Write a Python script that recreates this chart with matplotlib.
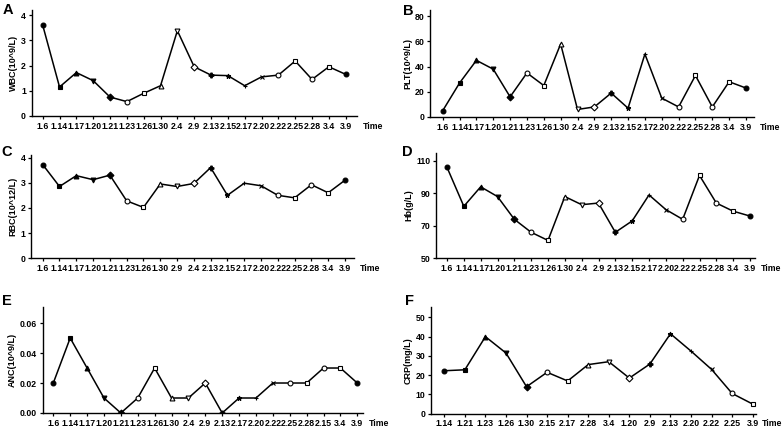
import matplotlib
matplotlib.use("Agg")
import matplotlib.pyplot as plt

plt.rcParams['font.family'] = ['Liberation Sans', 'DejaVu Sans']
plt.rcParams['font.weight'] = 'bold'

# Panel A - WBC
wbc_dates = ["1.6", "1.14", "1.17", "1.20", "1.21", "1.23", "1.26", "1.30", "2.4", "2.9",
             "2.13", "2.15", "2.17", "2.20", "2.22", "2.25", "2.28", "3.4", "3.9"]
wbc_vals = [3.6, 1.15, 1.72, 1.4, 0.75, 0.57, 0.9, 1.2, 3.38, 1.95,
            1.62, 1.6, 1.2, 1.55, 1.62, 2.18, 1.45, 1.95, 1.65]

# Panel B - PLT
plt_dates = wbc_dates
plt_vals = [5, 27, 45, 38, 16, 35, 25, 58, 6, 8, 19, 7, 50, 15, 8, 33, 8, 28, 23]

# Panel C - RBC
rbc_dates = ["1.6", "1.14", "1.17", "1.20", "1.21", "1.23", "1.26", "1.30", "2.9", "2.4",
             "2.13", "2.15", "2.17", "2.20", "2.22", "2.25", "2.28", "3.4", "3.9"]
rbc_vals = [3.72, 2.85, 3.28, 3.12, 3.3, 2.28, 2.02, 2.95, 2.85, 2.97,
            3.6, 2.5, 2.98, 2.88, 2.5, 2.4, 2.92, 2.6, 3.1]

# Panel D - Hb
hb_dates = wbc_dates
hb_vals = [106, 82, 94, 88, 74, 66, 61, 88, 83, 84, 66, 73, 89, 80, 74, 101, 84, 79, 76]

# Panel E - ANC
anc_dates = ["1.6", "1.14", "1.17", "1.20", "1.21", "1.23", "1.26", "1.30", "2.4", "2.9",
             "2.13", "2.17", "2.20", "2.22", "2.25", "2.28", "2.15", "3.4", "3.9"]
anc_vals = [0.02, 0.05, 0.03, 0.01, 0.0, 0.01, 0.03, 0.01, 0.01, 0.02,
            0.0, 0.01, 0.01, 0.02, 0.02, 0.02, 0.03, 0.03, 0.02]

# Panel F - CRP
crp_dates = ["1.14", "1.21", "1.23", "1.26", "1.30", "2.15", "2.17", "2.28", "3.4", "1.20",
             "2.9", "2.13", "2.20", "2.22", "2.25", "3.9"]
crp_vals = [22.3, 22.8, 40, 31.5, 14, 21.5, 17, 25.5, 27, 18.5, 25.8, 41.5, 32.5, 23, 10.5, 5]

# GraphPad-like marker cycle (marker, filled)
MARKERS = [("o", True), ("s", True), ("^", True), ("v", True), ("D", True),
           ("o", False), ("s", False), ("^", False), ("v", False), ("D", False),
           ("P", True), ("*", True), ("+", True), ("x", True), ("o", False),
           ("s", False), ("o", False), ("s", False), ("o", True)]

W, H = 782, 428
fig = plt.figure(figsize=(W / 100, H / 100), dpi=100)


def panel(box, first_x, last_x, dates, vals, ylabel, yticks, ylim, yfmt, letter, letter_xy):
    left, top, right, bottom = box
    ax = fig.add_axes([left / W, 1 - bottom / H, (right - left) / W, (bottom - top) / H])
    n = len(vals)
    step = (last_x - first_x) / (n - 1)
    xs = list(range(n))
    ax.plot(xs, vals, color="black", lw=1.1, zorder=2)
    for i, v in enumerate(vals):
        m, filled = MARKERS[i % len(MARKERS)]
        ax.plot(i, v, marker=m, ms=3.5, color="black", mew=0.8,
                mfc="black" if filled else "white", zorder=3)
    ax.set_xlim(-(first_x - left) / step, (n - 1) + (right - last_x) / step)
    ax.set_ylim(*ylim)
    ax.set_xticks(xs)
    ax.set_xticklabels(dates)
    ax.set_yticks(yticks)
    ax.set_yticklabels([yfmt.format(t) for t in yticks])
    for s in ["top", "right"]:
        ax.spines[s].set_visible(False)
    for s in ["left", "bottom"]:
        ax.spines[s].set_linewidth(1.0)
    ax.tick_params(labelsize=6.3, length=2.5, width=0.9, pad=1.5)
    ax.set_ylabel(ylabel, fontsize=6.5, fontweight="bold", labelpad=2)
    ax.annotate("Time", xy=(1, 0), xycoords="axes fraction", xytext=(4, -4),
                textcoords="offset points", fontsize=6.3, fontweight="bold",
                ha="left", va="top")
    fig.text(letter_xy[0] / W, 1 - letter_xy[1] / H, letter, fontsize=10.5,
             fontweight="bold", ha="center", va="center")
    return ax


panel((31.5, 10, 357, 116), 42.7, 345.7, wbc_dates, wbc_vals, "WBC(10^9/L)",
      [0, 1, 2, 3, 4], (0, 4.2), "{:g}", "A", (8, 10))
panel((430.3, 10, 754, 117), 442.7, 746, plt_dates, plt_vals, "PLT(10^9/L)",
      [0, 20, 40, 60, 80], (0, 85), "{:g}", "B", (408, 11))
panel((31, 155, 354, 258.3), 42.7, 345, rbc_dates, rbc_vals, "RBC(10^12/L)",
      [0, 1, 2, 3, 4], (0, 4.1), "{:g}", "C", (7, 152))
panel((436, 152.7, 755, 258.3), 447, 750, hb_dates, hb_vals, "Hb(g/L)",
      [50, 70, 90, 110], (50, 115), "{:g}", "D", (407, 152))
panel((42.7, 307, 363, 413), 53.3, 357.3, anc_dates, anc_vals, "ANC(10^9/L)",
      [0, 0.02, 0.04, 0.06], (0, 0.0707), "{:.2f}", "E", (7, 301))
panel((431, 307, 756, 413.7), 444.3, 752.7, crp_dates, crp_vals, "CRP(mg/L)",
      [0, 10, 20, 30, 40, 50], (0, 55.4), "{:g}", "F", (410, 301))

fig.savefig("out.png", dpi=100)
